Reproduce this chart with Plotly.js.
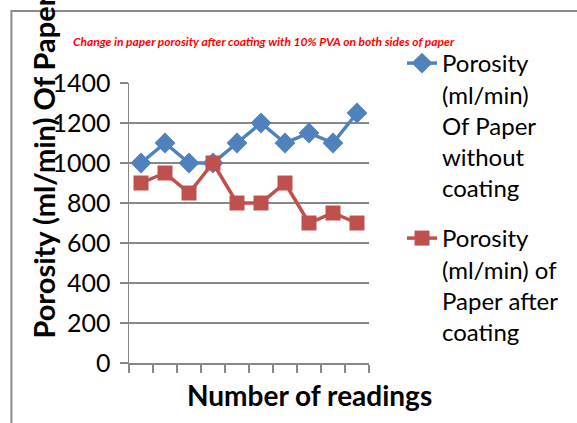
<!DOCTYPE html>
<html><head><meta charset="utf-8">
<script src="https://cdn.plot.ly/plotly-3.0.1.min.js"></script>
<style>body{margin:0;background:#fff}#c{width:577px;height:423px}</style>
</head><body><div id="c"></div>
<script>
const categories = ['1','2','3','4','5','6','7','8','9','10'];
const withoutCoating = [1000, 1100, 1000, 1000, 1100, 1200, 1100, 1150, 1100, 1250];
const afterCoating = [900, 950, 850, 1000, 800, 800, 900, 700, 750, 700];
const yTicks = [0, 200, 400, 600, 800, 1000, 1200, 1400];
const nameA = 'Porosity<br>(ml/min)<br>Of Paper<br>without<br>coating';
const nameB = 'Porosity<br>(ml/min) of<br>Paper after<br>coating';
const F = 'Lato, "Open Sans", sans-serif';

const traces = [
  {x: categories, y: withoutCoating, name: nameA, legendgroup: 'a', type: 'scatter', mode: 'lines+markers',
   line: {color: '#4F81BD', width: 3.5}, marker: {symbol: 'diamond', size: 16, color: '#4F81BD'}},
  {x: categories, y: afterCoating, name: nameB, legendgroup: 'b', type: 'scatter', mode: 'lines+markers',
   line: {color: '#C0504D', width: 3.5}, marker: {symbol: 'square', size: 15, color: '#C0504D'}}
];
const layout = {
  width: 577, height: 423,
  margin: {l: 129, r: 208, t: 83, b: 60},
  paper_bgcolor: '#fff', plot_bgcolor: '#fff',
  font: {family: F, color: '#000'},
  showlegend: true,
  legend: {x: 1.1375, y: 1.15, xanchor: 'left', yanchor: 'top', valign: 'top', maxheight: 420,
    font: {family: F, size: 24, color: '#000'}, tracegroupgap: 16, itemwidth: 30,
    bgcolor: 'rgba(0,0,0,0)'},
  xaxis: {type: 'category', range: [-0.5, 9.5], tickson: 'boundaries', ticks: 'outside',
    ticklen: 8, tickcolor: '#888', tickwidth: 1.5, showticklabels: false,
    showline: true, linecolor: '#888', linewidth: 1.5, showgrid: false, zeroline: false, fixedrange: true},
  yaxis: {range: [0, 1400], tickvals: yTicks, ticktext: yTicks.map(String), ticks: 'outside',
    ticklen: 8, tickcolor: '#888', tickwidth: 1.5, showline: true, linecolor: '#888', linewidth: 1.5,
    showgrid: true, gridcolor: '#888', gridwidth: 1.5, zeroline: false,
    tickfont: {family: F, size: 25, color: '#000'}, ticklabelstandoff: 4},
  shapes: [
    {type: 'rect', xref: 'paper', yref: 'paper', x0: -0.49, x1: 1.9, y0: -0.3, y1: 1.257,
     line: {color: '#8a8a8a', width: 2}, fillcolor: 'rgba(0,0,0,0)', layer: 'below'}
  ],
  annotations: [
    {text: '<b><i>Change in paper porosity after coating with 10% PVA on both sides of paper</i></b>',
     xref: 'paper', yref: 'paper', x: 0.5625, y: 1.15, xanchor: 'center', yanchor: 'middle',
     showarrow: false, font: {family: F, size: 12, color: '#FF0000'}},
    {text: '<b>Porosity (ml/min) Of Paper</b>', textangle: -90,
     xref: 'paper', yref: 'paper', x: -0.36, y: 0.70, xanchor: 'center', yanchor: 'middle',
     showarrow: false, font: {family: F, size: 29, color: '#000'}},
    {text: '<b>Number of readings</b>',
     xref: 'paper', yref: 'paper', x: 0.754, y: -0.114, xanchor: 'center', yanchor: 'middle',
     showarrow: false, font: {family: F, size: 28, color: '#000'}}
  ]
};
Plotly.newPlot('c', traces, layout, {displayModeBar: false, staticPlot: true});
</script></body></html>
